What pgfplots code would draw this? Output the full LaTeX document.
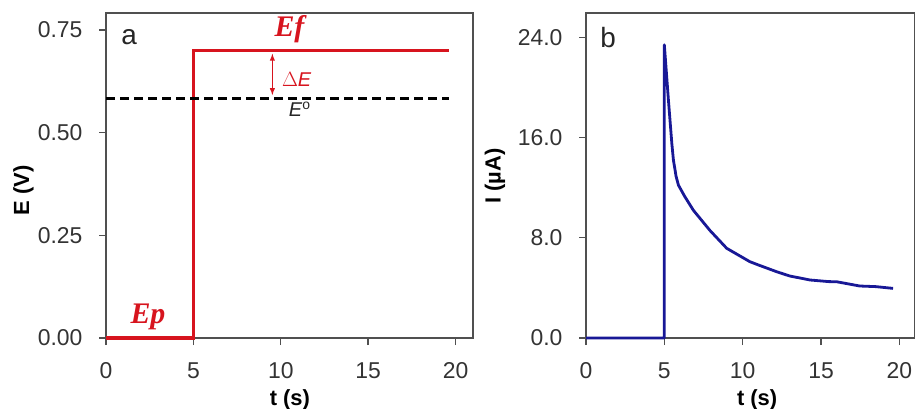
\documentclass[border=0pt]{standalone}
\usepackage{pgfplots}
\pgfplotsset{compat=1.18}
\usepackage{fontspec}
\setmainfont{Liberation Sans}
\newfontfamily\serifit{Liberation Serif}
\definecolor{cred}{RGB}{215,20,30}
\definecolor{cblue}{RGB}{24,24,150}
\definecolor{frame}{RGB}{80,80,80}
\begin{document}
\begin{tikzpicture}
\useasboundingbox (0,0) rectangle (915bp,409bp);
\pgfplotsset{
  every axis/.append style={
    scale only axis,
    axis line style={frame, line width=1.4bp},
    tick style={frame, line width=1.4bp},
    major tick length=7bp,
    tick align=outside,
    xtick pos=bottom, ytick pos=left,
    xmin=0, xmax=21, xtick={0,5,10,15,20},
    /pgf/number format/assume math mode=true,
    tick label style={font=\fontsize{23}{25}\selectfont, text=black!80},
    xticklabel style={yshift=-14bp},
    yticklabel style={xshift=-13bp},
    clip=false,
  }
}
% panel a
\begin{axis}[at={(106bp,71bp)}, anchor=south west,
  width=367bp, height=325bp,
  ymin=0, ymax=0.791, ytick={0,0.25,0.5,0.75},
  yticklabel style={/pgf/number format/.cd, fixed, fixed zerofill, precision=2},
]
\addplot[cred, line width=3bp, line join=miter] coordinates {(0,0) (5,0) (5,0.70) (19.65,0.70)};
\addplot[black, line width=2.4bp, dash pattern=on 9bp off 5bp] coordinates {(0,0.583) (19.65,0.583)};
\addplot[cred, line width=1.4bp, <->, >=latex] coordinates {(9.52,0.692) (9.52,0.591)};
\node[font=\fontsize{28}{30}\selectfont, text=black!85] at (axis description cs:0.063,0.926) {a};
\node[font=\fontsize{30}{30}\selectfont\serifit\bfseries\itshape, text=cred, anchor=base] at (axis cs:10.5,0.734) {Ef};
\node[font=\fontsize{30}{30}\selectfont\serifit\bfseries\itshape, text=cred, anchor=base] at (axis cs:2.4,0.036) {Ep};
\node[font=\fontsize{20}{22}\selectfont, text=cred, anchor=base west, inner sep=0pt] at (axis cs:10.06,0.612) {$\Delta$\textit{E}};
\node[font=\fontsize{20}{22}\selectfont, text=black!85, anchor=base, inner sep=0pt] at (axis cs:11.09,0.538) {\textit{E}\textsuperscript{o}};
\node[font=\fontsize{22}{24}\selectfont\bfseries, rotate=90] at (axis description cs:-0.225,0.455) {E (V)};
\node[font=\fontsize{22}{24}\selectfont\bfseries] at (axis description cs:0.501,-0.19) {t (s)};
\end{axis}
% panel b
\begin{axis}[at={(586bp,71bp)}, anchor=south west,
  width=329bp, height=325bp,
  ymin=0, ymax=25.94, ytick={0,8,16,24},
  yticklabel style={/pgf/number format/.cd, fixed, fixed zerofill, precision=1},
]
\addplot[cblue, line width=2.8bp, line join=round] coordinates {
(0,0) (5,0) (5,23.4) (5.26,19.0) (5.48,15.5) (5.58,14.2) (5.75,12.9) (5.9,12.2) (6.3,11.3) (6.85,10.2)
(7.9,8.6) (8.98,7.16) (10.46,6.09) (11,5.83) (12.17,5.29) (13,4.95) (14.3,4.63)
(15.5,4.5) (16.0,4.49) (17.47,4.15) (18.5,4.1) (19.6,3.96)};
\node[font=\fontsize{28}{30}\selectfont, text=black!85] at (axis description cs:0.067,0.923) {b};
\node[font=\fontsize{22}{24}\selectfont\bfseries, rotate=90] at (axis description cs:-0.277,0.498) {I (µA)};
\node[font=\fontsize{22}{24}\selectfont\bfseries] at (axis description cs:0.52,-0.19) {t (s)};
\end{axis}
\end{tikzpicture}
\end{document}
